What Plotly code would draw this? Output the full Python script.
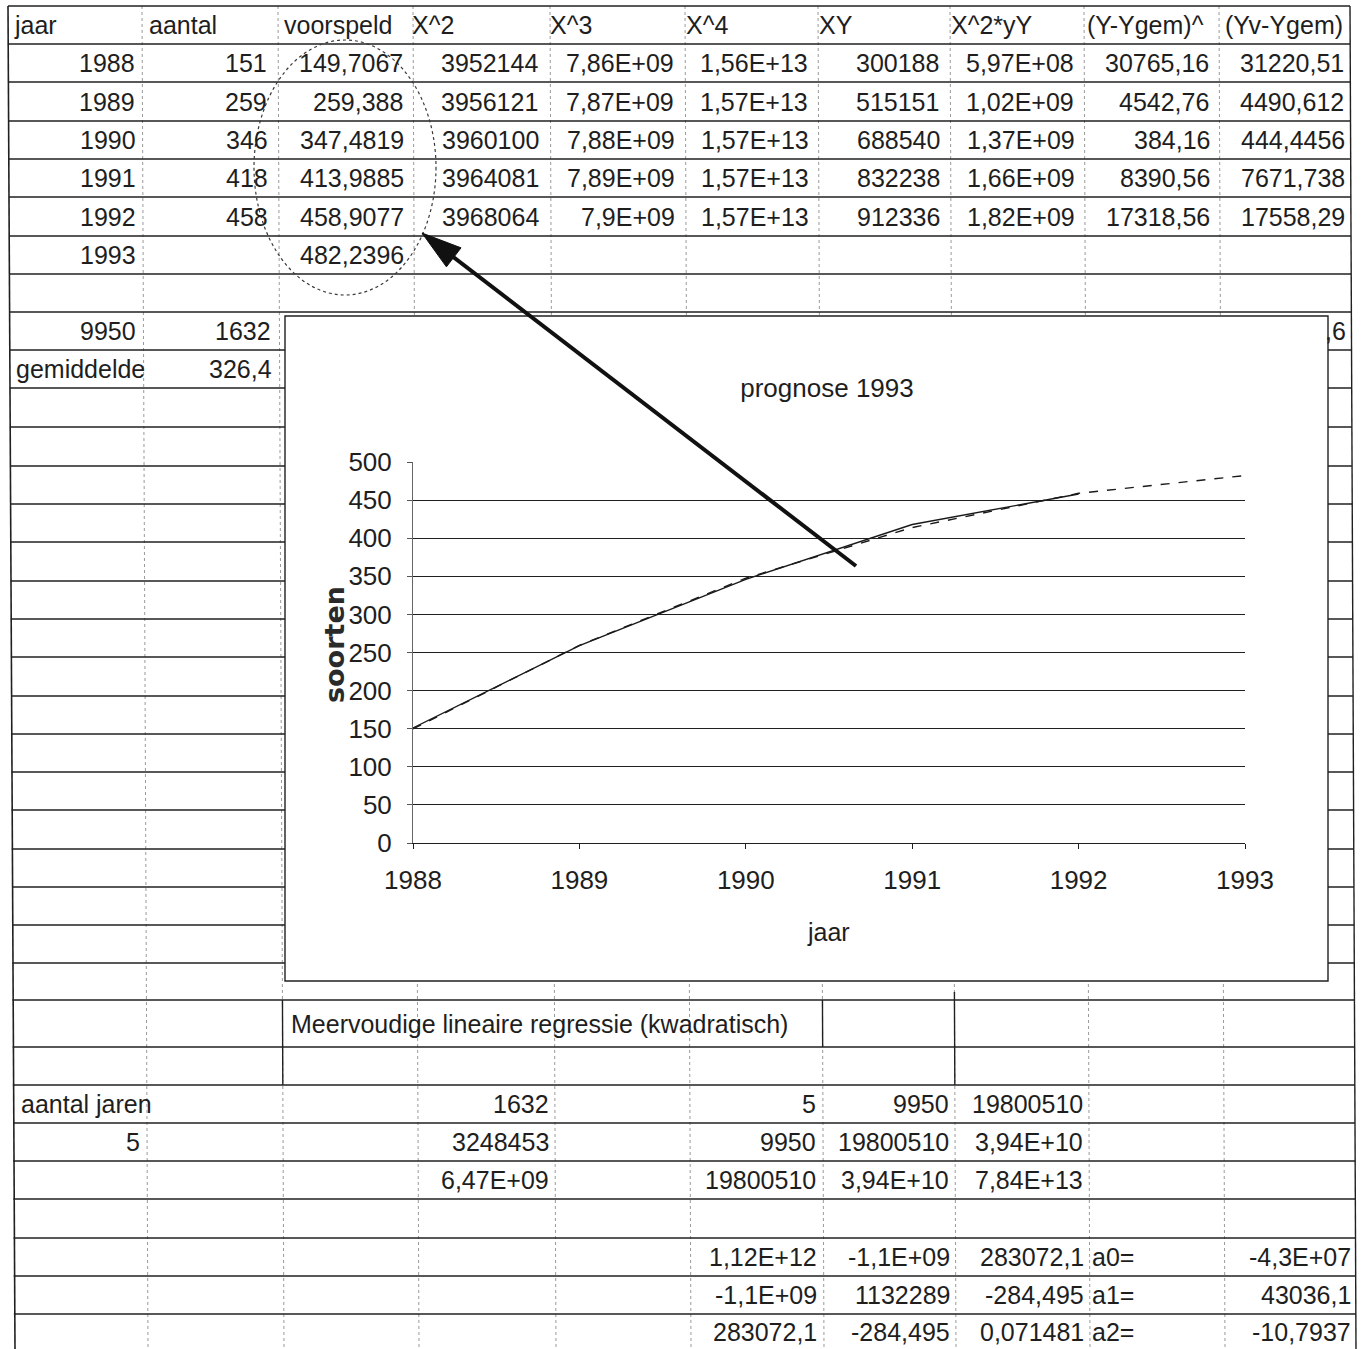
import plotly.graph_objects as go

W, H = 1361, 1349

# ---- spreadsheet data -------------------------------------------------
jaar = [1988, 1989, 1990, 1991, 1992, 1993]
aantal = [151, 259, 346, 418, 458]
voorspeld = [149.7067, 259.388, 347.4819, 413.9885, 458.9077, 482.2396]
x_kwadraat = ["3952144", "3956121", "3960100", "3964081", "3968064"]
x_derde = ["7,86E+09", "7,87E+09", "7,88E+09", "7,89E+09", "7,9E+09"]
x_vierde = ["1,56E+13", "1,57E+13", "1,57E+13", "1,57E+13", "1,57E+13"]
xy = ["300188", "515151", "688540", "832238", "912336"]
x2y = ["5,97E+08", "1,02E+09", "1,37E+09", "1,66E+09", "1,82E+09"]
afw_y = ["30765,16", "4542,76", "384,16", "8390,56", "17318,56"]
afw_yv = ["31220,51", "4490,612", "444,4456", "7671,738", "17558,29"]
kolomkoppen = ["jaar", "aantal", "voorspeld", "X^2", "X^3", "X^4", "XY",
               "X^2*yY", "(Y-Ygem)^", "(Yv-Ygem)"]
som_jaar = 9950
som_aantal = 1632
gemiddelde = 326.4
som_rest = ",6"

regressie_titel = "Meervoudige lineaire regressie (kwadratisch)"
aantal_jaren = 5
# normal-equation matrix (columns D, F, G, H)
matrix_d = ["1632", "3248453", "6,47E+09"]
matrix_f = ["5", "9950", "19800510"]
matrix_g = ["9950", "19800510", "3,94E+10"]
matrix_h = ["19800510", "3,94E+10", "7,84E+13"]
# inverse matrix and coefficients
inverse_f = ["1,12E+12", "-1,1E+09", "283072,1"]
inverse_g = ["-1,1E+09", "1132289", "-284,495"]
inverse_h = ["283072,1", "-284,495", "0,071481"]
coef_namen = ["a0=", "a1=", "a2="]
coef_waarden = ["-4,3E+07", "43036,1", "-10,7937"]

chart_titel = "prognose 1993"
y_ticks = list(range(0, 501, 50))


def nl(v):
    return str(v).replace(".", ",")


# ---- sheet geometry (pixels) -----------------------------------------
row_lines = [6, 44, 82, 121, 159, 197, 236, 274, 312, 350, 388, 427, 466,
             504, 542, 581, 619, 657, 696, 734, 772, 810, 849, 887, 925, 963,
             1000, 1047, 1085, 1123, 1161, 1199, 1238, 1276, 1314]
col_lines = [142, 278, 413, 550, 685, 818, 950, 1084, 1219]
SKEW = 6  # the sheet drifts slightly to the right towards the bottom


def xs(x, y):
    return x + SKEW * y / H


def mid(i):
    return (row_lines[i] + row_lines[i + 1]) / 2


GRID = "#202020"
TXT = "#1e1e1e"
FONT = "Liberation Sans, Arial, sans-serif"
FS = 25

shapes = []
# faint column gridlines
for cx in col_lines:
    shapes.append(dict(type="line", xref="x", yref="y", layer="below",
                       x0=cx, y0=6, x1=xs(cx, H), y1=H,
                       line=dict(color="#9a9a9a", width=1, dash="dot")))
# row borders
for ry in row_lines:
    shapes.append(dict(type="line", xref="x", yref="y", layer="below",
                       x0=xs(8, ry), y0=ry, x1=xs(1350, ry), y1=ry,
                       line=dict(color=GRID, width=1.4)))
# outer borders
shapes.append(dict(type="line", xref="x", yref="y", layer="below",
                   x0=8, y0=6, x1=xs(8, H) + 1, y1=H,
                   line=dict(color=GRID, width=1.6)))
shapes.append(dict(type="line", xref="x", yref="y", layer="below",
                   x0=1350, y0=6, x1=xs(1350, H), y1=H,
                   line=dict(color=GRID, width=1.4)))
# cell borders around the regression heading
for cx, ya, yb in [(278, 1000, 1085), (818, 1000, 1047), (950, 992, 1085)]:
    shapes.append(dict(type="line", xref="x", yref="y", layer="below",
                       x0=xs(cx, ya), y0=ya, x1=xs(cx, yb), y1=yb,
                       line=dict(color=GRID, width=1.4)))
# embedded chart frame
shapes.append(dict(type="rect", xref="x", yref="y", layer="below",
                   x0=285, y0=316, x1=1328, y1=981,
                   fillcolor="white", line=dict(color=GRID, width=1.4)))

# hand-drawn marks on top
shapes.append(dict(type="circle", xref="x", yref="y", layer="above",
                   x0=254, y0=40, x1=436, y1=295,
                   line=dict(color="#3a3a3a", width=1.2, dash="dot")))
tip = (422.0, 233.0)
tail = (856.0, 566.0)
dx, dy = tip[0] - tail[0], tip[1] - tail[1]
ln = (dx * dx + dy * dy) ** 0.5
ux, uy = dx / ln, dy / ln
nx, ny = -uy, ux
head_len, head_w = 40, 12
bx, by = tip[0] - head_len * ux, tip[1] - head_len * uy
shapes.append(dict(type="line", xref="x", yref="y", layer="above",
                   x0=tail[0], y0=tail[1], x1=bx + 6 * ux, y1=by + 6 * uy,
                   line=dict(color="#111111", width=4)))
shapes.append(dict(type="path", xref="x", yref="y", layer="above",
                   path=(f"M {tip[0]},{tip[1]} "
                         f"L {bx + head_w * nx},{by + head_w * ny} "
                         f"L {bx - head_w * nx},{by - head_w * ny} Z"),
                   fillcolor="#111111", line=dict(color="#111111", width=1)))

# ---- cell texts -------------------------------------------------------
ann = []


def cell(text, x, y, anchor="right", size=FS):
    ann.append(dict(text=text, x=xs(x, y), y=y, xref="x", yref="y",
                    xanchor=anchor, yanchor="middle", showarrow=False,
                    font=dict(family=FONT, size=size, color=TXT)))


head_x = [12, 147, 282, 410, 548, 684, 817, 949, 1085, 1223]
for t, hx in zip(kolomkoppen, head_x):
    cell(t, hx, mid(0), "left")

right_top = [137, 269, 405, 540, 676, 810, 941, 1076, 1211, 1346]
for i in range(len(jaar)):
    y = mid(i + 1)
    cell(str(jaar[i]), right_top[0], y)
    cell(nl(voorspeld[i]), right_top[2], y)
    if i < len(aantal):
        cols = [str(aantal[i]), None, x_kwadraat[i], x_derde[i], x_vierde[i],
                xy[i], x2y[i], afw_y[i], afw_yv[i]]
        for c, rx in zip(cols, right_top[1:]):
            if c is not None:
                cell(c, rx, y)

cell(str(som_jaar), 137, mid(8))
cell(str(som_aantal), 272, mid(8))
cell(som_rest, 1347, mid(8))
cell("gemiddelde", 12, mid(9), "left")
cell(nl(gemiddelde), 272, mid(9))

cell(regressie_titel, 284, mid(26), "left")
cell("aantal jaren", 14, mid(28), "left")
cell(str(aantal_jaren), 137, mid(29))
for k in range(3):
    y = mid(28 + k)
    cell(matrix_d[k], 546, y)
    cell(matrix_f[k], 813, y)
    cell(matrix_g[k], 946, y)
    cell(matrix_h[k], 1080, y)
for k in range(3):
    y = mid(32 + k) if 32 + k < len(row_lines) - 1 else (row_lines[-1] + H) / 2
    cell(inverse_f[k], 813, y)
    cell(inverse_g[k], 946, y)
    cell(inverse_h[k], 1080, y)
    cell(coef_namen[k], 1084, y, "left")
    cell(coef_waarden[k], 1347, y)

# chart axis titles
ann.append(dict(text="jaar", x=828, y=932, xref="x", yref="y",
                showarrow=False, xanchor="center", yanchor="middle",
                font=dict(family=FONT, size=FS, color=TXT)))
ann.append(dict(text="soorten", x=334, y=645, xref="x", yref="y",
                showarrow=False, textangle=-90, xanchor="center",
                yanchor="middle",
                font=dict(family="DejaVu Sans, sans-serif", size=27,
                          color="#2a2a2a", weight="bold")))

# ---- figure -----------------------------------------------------------
fig = go.Figure()
fig.add_trace(go.Scatter(x=jaar[:len(aantal)], y=aantal, mode="lines",
                         name="aantal", xaxis="x2", yaxis="y2",
                         line=dict(color="#1a1a1a", width=1.4),
                         hoverinfo="skip"))
fig.add_trace(go.Scatter(x=jaar, y=voorspeld, mode="lines",
                         name="voorspeld", xaxis="x2", yaxis="y2",
                         line=dict(color="#1a1a1a", width=1.4, dash="dash"),
                         hoverinfo="skip"))

px0, px1, py0, py1 = 413, 1245, 462, 843
fig.update_layout(
    width=W, height=H, autosize=False,
    margin=dict(l=0, r=0, t=0, b=0, pad=0, autoexpand=False),
    paper_bgcolor="white", plot_bgcolor="rgba(0,0,0,0)",
    showlegend=False, hovermode=False,
    xaxis=dict(range=[0, W], domain=[0, 1], visible=False, fixedrange=True,
               automargin=False),
    yaxis=dict(range=[H, 0], domain=[0, 1], visible=False, fixedrange=True,
               automargin=False),
    xaxis2=dict(domain=[px0 / W, px1 / W], anchor="y2", range=[1988, 1993],
                tickvals=jaar, ticktext=[str(j) for j in jaar],
                showgrid=False, zeroline=False, showline=True,
                linecolor=GRID, linewidth=1.3, ticks="outside", ticklen=5,
                tickcolor=GRID, ticklabelstandoff=9, automargin=False,
                tickfont=dict(family=FONT, size=26, color=TXT)),
    yaxis2=dict(domain=[1 - py1 / H, 1 - py0 / H], anchor="x2",
                range=[0, 500], tickvals=y_ticks, automargin=False,
                showgrid=True, gridcolor=GRID, gridwidth=1.2, zeroline=False,
                showline=True, linecolor="#666666", linewidth=1,
                ticks="outside", ticklen=5, tickcolor="#555555",
                ticklabelstandoff=10,
                tickfont=dict(family=FONT, size=26, color=TXT)),
    title=dict(text=chart_titel, x=827 / W, y=1 - 388 / H,
               xanchor="center", yanchor="middle", automargin=False,
               font=dict(family=FONT, size=26, color=TXT)),
    shapes=shapes,
    annotations=ann,
)

fig.write_html("out.html", config={"responsive": False})
